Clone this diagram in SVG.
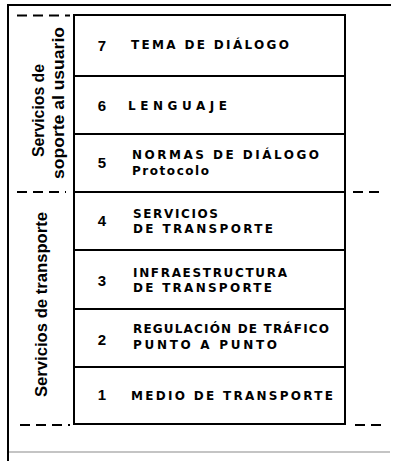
<svg xmlns="http://www.w3.org/2000/svg" width="393" height="461" viewBox="0 0 393 461">
<style>
  .frame { stroke: #000; stroke-width: 2; fill: none; stroke-linecap: square; }
  .cell { stroke: #000; stroke-width: 2; fill: #fff; }
  .dash { stroke: #000; stroke-width: 2; stroke-dasharray: 10 6; fill: none; }
  .num { font-family: "Liberation Sans", "DejaVu Sans", sans-serif; font-weight: bold; font-size: 15px; fill: #000; text-anchor: middle; }
  .lbl { font-family: "DejaVu Sans", "Liberation Sans", sans-serif; font-weight: bold; font-size: 12px; fill: #000; }
  .lbl2 { font-family: "DejaVu Sans", "Liberation Sans", sans-serif; font-weight: bold; font-size: 12px; fill: #000; }
  .side { font-family: "Liberation Sans", "DejaVu Sans", sans-serif; font-weight: bold; font-size: 17px; fill: #000; }
</style>
<rect x="0" y="0" width="393" height="461" fill="#fff"/>

<g id="frame">
  <line class="frame" x1="8" y1="5" x2="390" y2="5"/>
  <line class="frame" x1="8" y1="5" x2="8" y2="461"/>
  <line x1="9" y1="452" x2="390" y2="452" stroke="#b0b0b0" stroke-width="1.5"/>
</g>

<g id="connectors">
  <line class="dash" x1="17" y1="15.5" x2="70" y2="15.5"/>
  <line class="dash" x1="17" y1="192" x2="66" y2="192"/>
  <line class="dash" x1="353" y1="192" x2="381" y2="192"/>
  <line class="dash" x1="20" y1="425" x2="70" y2="425"/>
  <line class="dash" x1="355" y1="425" x2="383" y2="425"/>
</g>

<g id="group-usuario">
  <text class="side" transform="translate(44,157) rotate(-90)" textLength="93" lengthAdjust="spacingAndGlyphs">Servicios de</text>
  <text class="side" transform="translate(64,179) rotate(-90)" textLength="152" lengthAdjust="spacingAndGlyphs">soporte al usuario</text>
</g>

<g id="group-transporte">
  <text class="side" transform="translate(47,397) rotate(-90)" textLength="185" lengthAdjust="spacingAndGlyphs">Servicios de transporte</text>
</g>

<g id="layer7">
  <rect class="cell" x="74" y="15" width="271" height="61"/>
  <text class="num" x="102" y="51">7</text>
  <text class="lbl" x="131" y="49" textLength="158" lengthAdjust="spacing">TEMA DE DIÁLOGO</text>
</g>

<g id="layer6">
  <rect class="cell" x="74" y="76" width="271" height="58"/>
  <text class="num" x="102" y="111">6</text>
  <text class="lbl" x="128" y="110" textLength="99" lengthAdjust="spacing">LENGUAJE</text>
</g>

<g id="layer5">
  <rect class="cell" x="74" y="134" width="271" height="58"/>
  <text class="num" x="102" y="168">5</text>
  <text class="lbl" x="132" y="159" textLength="187" lengthAdjust="spacing">NORMAS DE DIÁLOGO</text>
  <text class="lbl2" x="132" y="175" textLength="77" lengthAdjust="spacing">Protocolo</text>
</g>

<g id="layer4">
  <rect class="cell" x="74" y="192" width="271" height="58"/>
  <text class="num" x="102" y="226">4</text>
  <text class="lbl" x="133" y="218" textLength="85" lengthAdjust="spacing">SERVICIOS</text>
  <text class="lbl" x="133" y="233" textLength="140" lengthAdjust="spacing">DE TRANSPORTE</text>
</g>

<g id="layer3">
  <rect class="cell" x="74" y="250" width="271" height="59"/>
  <text class="num" x="102" y="286">3</text>
  <text class="lbl" x="133" y="277" textLength="154" lengthAdjust="spacing">INFRAESTRUCTURA</text>
  <text class="lbl" x="133" y="292" textLength="139" lengthAdjust="spacing">DE TRANSPORTE</text>
</g>

<g id="layer2">
  <rect class="cell" x="74" y="309" width="271" height="58"/>
  <text class="num" x="102" y="345">2</text>
  <text class="lbl" x="133" y="333" textLength="196" lengthAdjust="spacing">REGULACIÓN DE TRÁFICO</text>
  <text class="lbl" x="133" y="349" textLength="144" lengthAdjust="spacing">PUNTO A PUNTO</text>
</g>

<g id="layer1">
  <rect class="cell" x="74" y="367" width="271" height="57"/>
  <text class="num" x="102" y="400">1</text>
  <text class="lbl" x="131" y="400" textLength="202" lengthAdjust="spacing">MEDIO DE TRANSPORTE</text>
</g>
</svg>
